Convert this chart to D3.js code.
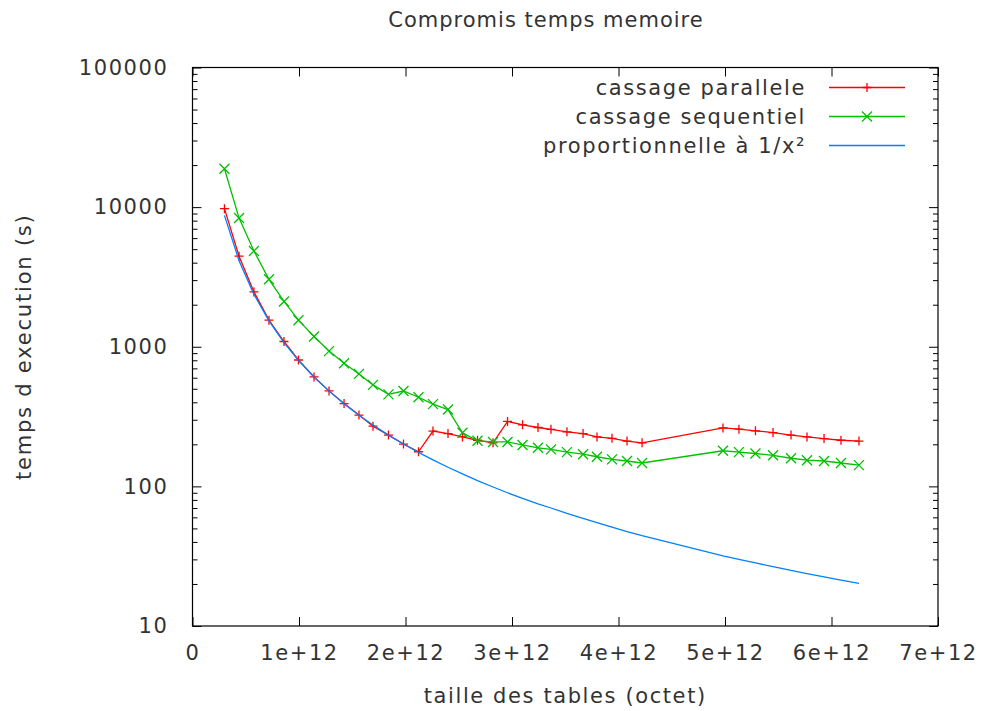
<!DOCTYPE html>
<html lang="fr">
<head>
    <meta charset="UTF-8">
    <title>Compromis temps memoire</title>
    <script src="https://cdnjs.cloudflare.com/ajax/libs/d3/7.8.5/d3.min.js"></script>
    <style>
        body {
            margin: 0;
            background-color: white;
        }
        svg text {
            font-family: 'DejaVu Sans', sans-serif;
            fill: #333;
        }
        .tick text {
            font-size: 21px;
            letter-spacing: 1.6px;
        }
        .line {
            fill: none;
            stroke-width: 1.3px;
        }
    </style>
</head>
<body>
    <div id="chart"></div>

    <script>
        // table sizes (octets)
        const sizes = [
            0.300e12, 0.437e12, 0.577e12, 0.718e12, 0.859e12, 0.995e12, 1.141e12, 1.282e12,
            1.423e12, 1.563e12, 1.695e12, 1.840e12, 1.981e12, 2.122e12, 2.258e12, 2.399e12,
            2.535e12, 2.676e12, 2.822e12, 2.958e12, 3.099e12, 3.244e12, 3.366e12, 3.516e12,
            3.667e12, 3.798e12, 3.939e12, 4.080e12, 4.221e12, 4.981e12, 5.131e12, 5.286e12,
            5.451e12, 5.620e12, 5.770e12, 5.930e12, 6.089e12, 6.258e12
        ];
        const parallele = [
            9750, 4450, 2470, 1550, 1090, 804, 608, 483, 392, 324, 270, 233, 201, 177,
            249, 239, 226, 214, 205, 292, 276, 264, 256, 246, 239, 226, 221, 211, 205,
            262, 257, 250, 243, 233, 226, 220, 214, 211
        ];
        const sequentiel = [
            18840, 8350, 4850, 3040, 2110, 1550, 1183, 931, 762, 639, 533, 456, 482, 435,
            388, 355, 242, 212, 208, 208, 198, 189, 184, 176, 170, 163, 156, 152, 147,
            180, 176, 172, 167, 159, 154, 152, 147, 142
        ];
        const proportionnelle = [
            8730, 4137, 2373, 1532, 1071, 798, 607, 481, 390, 323, 275, 233, 201, 175,
            155, 137, 123, 110, 99, 90, 82, 75, 70, 64, 59, 55, 51, 47.5, 44.3,
            31.8, 30, 28.3, 26.6, 25, 23.7, 22.5, 21.3, 20.2
        ];
        const xTicks = [0, 1e12, 2e12, 3e12, 4e12, 5e12, 6e12, 7e12];
        const yTicks = [10, 100, 1000, 10000, 100000];
        const seriesNames = ["cassage parallele", "cassage sequentiel", "proportionnelle à 1/x²"];
        const seriesColors = ["#ff0000", "#00c000", "#0080ff"];

        const W = 981, H = 711;
        const plot = {left: 192.5, right: 938, top: 67.5, bottom: 626};

        const svg = d3.select("#chart")
            .append("svg")
            .attr("width", W)
            .attr("height", H);

        const x = d3.scaleLinear().domain([0, 7e12]).range([plot.left, plot.right]);
        const y = d3.scaleLog().domain([10, 100000]).range([plot.bottom, plot.top]);

        // minor ticks 2..9 for each decade
        const minorTicks = [];
        yTicks.slice(0, -1).forEach(d => {
            for (let k = 2; k <= 9; k++) minorTicks.push(d * k);
        });

        const fmtX = d => d === 0 ? "0" : `${d / 1e12}e+12`;

        // bottom + top x axes
        svg.append("g")
            .attr("transform", `translate(0,${plot.bottom})`)
            .call(d3.axisBottom(x).tickValues(xTicks).tickFormat(fmtX).tickSize(-9).tickPadding(19))
            .call(g => g.select(".domain").remove());
        svg.append("g")
            .attr("transform", `translate(0,${plot.top})`)
            .call(d3.axisTop(x).tickValues(xTicks).tickFormat("").tickSize(-9))
            .call(g => g.select(".domain").remove());

        // left + right y axes
        svg.append("g")
            .attr("transform", `translate(${plot.left},0)`)
            .call(d3.axisLeft(y).tickValues(yTicks).tickFormat(d3.format("d")).tickSize(-9).tickPadding(24))
            .call(g => g.select(".domain").remove());
        svg.append("g")
            .attr("transform", `translate(${plot.left},0)`)
            .call(d3.axisLeft(y).tickValues(minorTicks).tickFormat("").tickSize(-5))
            .call(g => g.select(".domain").remove());
        svg.append("g")
            .attr("transform", `translate(${plot.right},0)`)
            .call(d3.axisRight(y).tickValues(yTicks).tickFormat("").tickSize(-9))
            .call(g => g.select(".domain").remove());
        svg.append("g")
            .attr("transform", `translate(${plot.right},0)`)
            .call(d3.axisRight(y).tickValues(minorTicks).tickFormat("").tickSize(-5))
            .call(g => g.select(".domain").remove());

        svg.selectAll(".tick line").attr("stroke", "#000");
        svg.selectAll(".tick text").attr("fill", "#333");

        // frame
        svg.append("rect")
            .attr("x", plot.left)
            .attr("y", plot.top)
            .attr("width", plot.right - plot.left)
            .attr("height", plot.bottom - plot.top)
            .attr("fill", "none")
            .attr("stroke", "#000")
            .attr("stroke-width", 1.2);

        // titles
        svg.append("text")
            .attr("x", 546)
            .attr("y", 27)
            .attr("text-anchor", "middle")
            .style("font-size", "21px")
            .style("letter-spacing", "1px")
            .text("Compromis temps memoire");

        svg.append("text")
            .attr("x", (plot.left + plot.right) / 2)
            .attr("y", 703)
            .attr("text-anchor", "middle")
            .style("font-size", "21px")
            .style("letter-spacing", "1.6px")
            .text("taille des tables (octet)");

        svg.append("text")
            .attr("transform", `translate(31,${(plot.top + plot.bottom) / 2})rotate(-90)`)
            .attr("text-anchor", "middle")
            .style("font-size", "21px")
            .style("letter-spacing", "1.8px")
            .text("temps d execution (s)");

        // series
        const allSeries = [parallele, sequentiel, proportionnelle].map((vals, i) => ({
            name: seriesNames[i],
            color: seriesColors[i],
            points: sizes.map((s, j) => ({x: s, y: vals[j]}))
        }));

        const line = d3.line()
            .x(d => x(d.x))
            .y(d => y(d.y));

        const plusPath = "M-4.5,0H4.5M0,-4.5V4.5";
        const crossPath = "M-5,-5L5,5M-5,5L5,-5";
        const markers = [plusPath, crossPath, null];

        allSeries.forEach((s, i) => {
            svg.append("path")
                .datum(s.points)
                .attr("class", "line")
                .attr("stroke", s.color)
                .attr("d", line);

            if (markers[i]) {
                svg.append("g")
                    .selectAll("path")
                    .data(s.points)
                    .join("path")
                    .attr("transform", d => `translate(${x(d.x)},${y(d.y)})`)
                    .attr("d", markers[i])
                    .attr("stroke", s.color)
                    .attr("stroke-width", 1.3)
                    .attr("fill", "none");
            }
        });

        // legend
        const legend = svg.append("g");
        allSeries.forEach((s, i) => {
            const row = legend.append("g")
                .attr("transform", `translate(0,${87.5 + i * 29})`);
            row.append("text")
                .attr("x", 806)
                .attr("dy", "0.35em")
                .attr("text-anchor", "end")
                .style("font-size", "21px")
                .style("letter-spacing", "1.6px")
                .text(s.name);
            row.append("line")
                .attr("x1", 829)
                .attr("x2", 905)
                .attr("stroke", s.color)
                .attr("stroke-width", 1.5);
            if (markers[i]) {
                row.append("path")
                    .attr("transform", "translate(867,0)")
                    .attr("d", markers[i])
                    .attr("stroke", s.color)
                    .attr("stroke-width", 1.3)
                    .attr("fill", "none");
            }
        });
    </script>
</body>
</html>
